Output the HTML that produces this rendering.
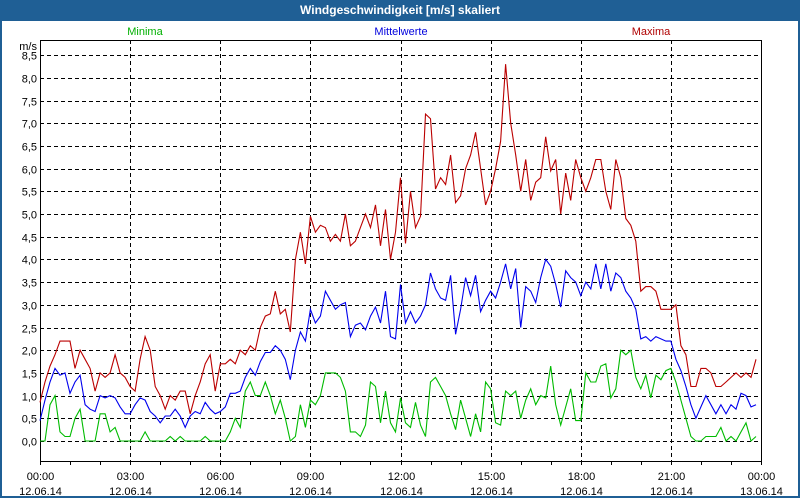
<!DOCTYPE html>
<html><head><meta charset="utf-8"><style>
body{margin:0;width:800px;height:500px;overflow:hidden;background:#fff;font-family:"Liberation Sans",sans-serif}
#frame{position:absolute;left:0;top:0;width:796px;height:496px;border:2px solid #1f5f95;border-top:none}
#title{position:absolute;left:0;top:0;width:800px;height:21px;background:#1f5f95;color:#fff;font-weight:bold;font-size:12px;line-height:21px;text-align:center}
</style></head><body>
<div id="frame"></div>
<div id="title">Windgeschwindigkeit [m/s] skaliert</div>
<svg id="chart" width="800" height="500" style="position:absolute;left:0;top:0"></svg>
<script>
const xLabels=["00:00","03:00","06:00","09:00","12:00","15:00","18:00","21:00","00:00"];
const dateLabels=["12.06.14","12.06.14","12.06.14","12.06.14","12.06.14","12.06.14","12.06.14","12.06.14","13.06.14"];
const yTicks=[0,0.5,1,1.5,2,2.5,3,3.5,4,4.5,5,5.5,6,6.5,7,7.5,8,8.5];
const maxima=[0.85,1.3,1.65,1.9,2.2,2.2,2.2,1.6,2.0,1.8,1.6,1.1,1.5,1.4,1.5,1.9,1.5,1.4,1.2,1.1,1.8,2.3,2.0,1.2,1.0,0.7,1.0,0.9,1.1,1.1,0.6,1.0,1.3,1.7,1.9,1.1,
1.7,1.7,1.8,1.7,2.0,1.9,2.1,2.0,2.5,2.75,2.8,3.3,2.8,2.9,2.4,4.0,4.6,3.9,4.95,4.6,4.75,4.7,4.4,4.55,4.4,5.0,4.3,4.4,4.7,5.0,4.7,5.2,4.3,5.1,4.0,4.6,
5.8,4.35,5.5,4.7,4.95,7.2,7.1,5.55,5.8,5.65,6.3,5.25,5.4,6.0,6.3,6.8,6.0,5.2,5.5,6.0,6.6,8.3,7.0,6.3,5.5,6.2,5.3,5.7,5.8,6.7,5.95,6.2,5.0,5.9,5.3,6.2,
5.8,5.5,5.8,6.2,6.2,5.5,5.1,6.2,5.8,4.9,4.75,4.4,3.3,3.4,3.4,3.3,2.9,2.9,2.9,3.0,2.1,1.9,1.2,1.2,1.6,1.6,1.5,1.2,1.2,1.3,1.4,1.5,1.4,1.5,1.4,1.8];
const mittel=[0.45,0.9,1.3,1.6,1.45,1.5,1.05,1.3,1.45,0.8,0.7,0.65,1.0,0.95,1.0,0.95,0.75,0.6,0.6,0.8,0.95,0.9,0.65,0.55,0.4,0.55,0.55,0.7,0.55,0.3,0.55,0.65,0.6,0.85,0.7,0.6,
0.65,0.75,1.05,1.05,1.1,1.4,1.6,1.45,1.75,1.95,1.95,2.1,2.0,1.8,1.35,2.0,2.4,2.2,2.9,2.6,2.75,3.3,3.1,2.9,3.0,3.05,2.3,2.55,2.6,2.45,2.75,2.95,2.6,3.3,2.3,2.25,
3.45,2.6,2.85,2.6,2.75,3.0,3.7,3.35,3.15,3.1,3.65,2.35,2.9,3.6,3.2,3.65,2.85,3.1,3.3,3.15,3.5,3.9,3.35,3.8,2.5,3.4,3.3,3.05,3.6,4.0,3.85,3.45,2.95,3.75,3.6,3.5,
3.2,3.5,3.35,3.9,3.35,3.9,3.3,3.7,3.6,3.3,3.15,2.9,2.25,2.3,2.2,2.3,2.25,2.2,2.2,1.8,1.55,1.2,0.8,0.5,0.75,1.0,0.8,0.6,0.8,0.6,0.8,0.7,1.05,1.0,0.75,0.8];
const minima=[0,0,0.8,1.0,0.2,0.1,0.1,0.5,0.7,0,0,0,0.6,0.6,0.2,0.3,0,0,0,0,0,0.2,0,0,0,0,0.1,0,0.1,0,0,0,0,0.1,0,0,
0,0,0.2,0.5,0.3,1.1,1.3,1.0,1.0,1.3,1.0,0.6,0.9,0.5,0,0.1,0.8,0.3,0.9,0.8,1.0,1.5,1.5,1.5,1.4,1.1,0.2,0.2,0.1,0.35,1.3,1.2,0.4,1.1,0.4,0.2,
0.95,0.4,0.3,0.85,0.35,0.1,1.3,1.4,1.2,1.0,0.6,0.25,0.9,0.5,0.1,0.6,0.2,1.3,1.15,0.4,0.35,1.1,1.0,1.1,0.5,0.9,1.15,0.8,1.0,0.95,1.65,0.8,0.35,0.75,1.15,0.45,
0.45,1.5,1.3,1.3,1.65,1.7,0.95,1.15,2.0,1.9,2.0,1.4,1.15,1.45,0.95,1.45,1.35,1.55,1.6,1.3,0.9,0.5,0.1,0,0,0.1,0.1,0.1,0.3,0,0.1,0,0.2,0.4,0,0.1];

const svg=document.getElementById('chart');const NS='http://www.w3.org/2000/svg';
const L=40,R=761,T=40,B=461;
function xPos(i){return L+i*(R-L)/144;}   // i = 10-minute index
function yPos(v){return 441-v*45.4;}
function mk(tag,attrs,txt){const e=document.createElementNS(NS,tag);for(const k in attrs)e.setAttribute(k,attrs[k]);if(txt!==undefined)e.textContent=txt;svg.appendChild(e);return e;}
// grid
yTicks.forEach(v=>{const y=Math.round(yPos(v))+0.5;
 const g=mk('line',{x1:L,x2:R,y1:y,y2:y,stroke:'#000','stroke-dasharray':'4,3'});
 
 
 const t=mk('text',{x:37,y:y+4,'text-anchor':'end','font-size':'11',fill:'#000'},v.toFixed(1).replace('.',','));
 
 
});
xLabels.forEach((lab,k)=>{const x=Math.round(xPos(k*18))+0.5;
 if(k>0&&k<8){const g=mk('line',{x1:x,x2:x,y1:T,y2:B,stroke:'#000','stroke-dasharray':'4,3'});
 
 }
 const t=mk('text',{x:x,y:480,'text-anchor':'middle','font-size':'11',fill:'#000'},lab);
 
 
 const d=mk('text',{x:x,y:495,'text-anchor':'middle','font-size':'11',fill:'#000'},dateLabels[k]);
 
 
});
for(let h=0;h<=24;h++){const x=Math.round(xPos(h*6))+0.5;
 const tk=mk('line',{x1:x,x2:x,y1:B,y2:B+4,stroke:'#000'});
 
 }
// frame
const box=mk('rect',{x:L+0.5,y:T+0.5,width:R-L,height:B-T,fill:'none',stroke:'#000'});


const u=mk('text',{x:37,y:50,'text-anchor':'end','font-size':'11',fill:'#000'},'m/s');


// series
function series(arr,color,name){const p=arr.map((v,i)=>xPos(i).toFixed(1)+','+yPos(v).toFixed(1)).join(' ');
 const e=mk('polyline',{points:p,fill:'none',stroke:color,'stroke-width':'1.1'});
 
 }
series(minima,'#00bb00','minima-line');
series(mittel,'#0000ee','mittelwerte-line');
series(maxima,'#bb0000','maxima-line');
// legend
const l1=mk('text',{x:145,y:35,'text-anchor':'middle','font-size':'11',fill:'#00b000'},'Minima');


const l2=mk('text',{x:401,y:35,'text-anchor':'middle','font-size':'11',fill:'#0000dd'},'Mittelwerte');


const l3=mk('text',{x:651,y:35,'text-anchor':'middle','font-size':'11',fill:'#b00000'},'Maxima');


</script>
</body></html>
